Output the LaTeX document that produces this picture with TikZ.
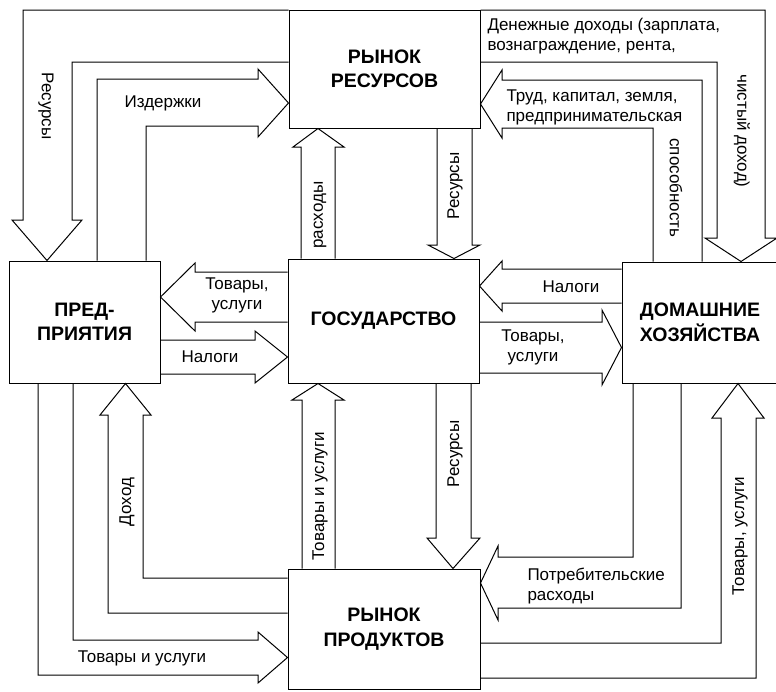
\documentclass[tikz,border=0pt]{standalone}
\usepackage{fontspec}
\setmainfont{Liberation Sans}

\tikzset{
  box/.style={draw, align=center, inner sep=0pt, font=\bfseries\fontsize{19.5}{24.5}\selectfont},
  lbl/.style={font=\fontsize{17}{20}\selectfont, inner sep=0pt},
}

\begin{document}
\begin{tikzpicture}[x=1pt, y=-1pt, line width=1pt, line join=miter]
  \useasboundingbox (0,0) rectangle (776,691);

  \node[box, minimum width=191pt, minimum height=118pt] (rr) at (384.5,69) {РЫНОК\\РЕСУРСОВ};
  \node[box, minimum width=151pt, minimum height=122pt] (pr) at (84.5,322) {ПРЕД-\\ПРИЯТИЯ};
  \node[box, minimum width=191pt, minimum height=124pt] (gov) at (383.5,321) {ГОСУДАРСТВО};
  \node[box, minimum width=156pt, minimum height=121pt] (hh) at (700,322.5) {ДОМАШНИЕ\\ХОЗЯЙСТВА};
  \node[box, minimum width=192pt, minimum height=120pt] (pm) at (384,629) {РЫНОК\\ПРОДУКТОВ};

  % upper loops
  \draw (rr.west |- 0,10) -| (23,220) -- (12,220) -- (47,0 |- pr.north) -- (82,220) -- (72,220) |- (rr.west |- 0,62);
  \draw (97,0 |- pr.north) |- (258,79) -- (258,69) -- (rr.west |- 0,103) -- (258,137) -- (258,126) -| (146,0 |- pr.north);
  \draw (rr.east |- 0,10) -| (765,238) -- (777,238) -- (741,0 |- hh.north) -- (705,238) -- (717,238) |- (rr.east |- 0,62);
  \draw (702,0 |- hh.north) |- (502,80) -- (502,70) -- (rr.east |- 0,104) -- (502,138) -- (502,128) -| (653,0 |- hh.north);

  % state and markets
  \draw (301,0 |- gov.north) -- (301,147) -- (293,147) -- (318,0 |- rr.south) -- (344,147) -- (335,147) -- (335,0 |- gov.north);
  \draw (437,0 |- rr.south) -- (437,245) -- (428,245) -- (454,0 |- gov.north) -- (480,245) -- (472,245) -- (472,0 |- rr.south);
  \draw (302,0 |- pm.north) -- (302,400) -- (292,400) -- (318,0 |- gov.south) -- (344,400) -- (335,400) -- (335,0 |- pm.north);
  \draw (436,0 |- gov.south) -- (436,538) -- (427,538) -- (453,0 |- pm.north) -- (480,538) -- (471,538) -- (471,0 |- gov.south);

  % state and sectors
  \draw (gov.west |- 0,272) -- (195,272) -- (195,263) -- (pr.east |- 0,297) -- (195,331) -- (195,322) -- (gov.west |- 0,322);
  \draw (pr.east |- 0,340) -- (255,340) -- (255,331) -- (gov.west |- 0,357) -- (255,383) -- (255,374) -- (pr.east |- 0,374);
  \draw (hh.west |- 0,269) -- (502,269) -- (502,261) -- (gov.east |- 0,286) -- (502,311) -- (502,303) -- (hh.west |- 0,303);
  \draw (gov.east |- 0,322) -- (602,322) -- (602,310) -- (hh.west |- 0,347.5) -- (602,385) -- (602,373) -- (gov.east |- 0,373);

  % lower loops
  \draw (pm.west |- 0,613) -| (108,415) -- (100,415) -- (125.5,0 |- pr.south) -- (151,415) -- (143,415) |- (pm.west |- 0,578);
  \draw (38,0 |- pr.south) |- (258,675) -- (258,683) -- (pm.west |- 0,657.5) -- (258,632) -- (258,640) -| (73,0 |- pr.south);
  \draw (681,0 |- hh.south) |- (498,608) -- (498,620) -- (pm.east |- 0,583) -- (498,546) -- (498,557) -| (633,0 |- hh.south);
  \draw (pm.east |- 0,678) -| (756,418) -- (764,418) -- (738,0 |- hh.south) -- (712,418) -- (721,418) |- (pm.east |- 0,643);

  \node[lbl, rotate=-90] (res1) at (46,106) {Ресурсы};
  \node[lbl] (izd) at (163,103) {Издержки};
  \node[lbl, anchor=west, align=left] (den) at (487,36) {Денежные доходы (зарплата,\\вознаграждение, рента,};
  \node[lbl, rotate=-90] (chist) at (742,131) {чистый доход)};
  \node[lbl, anchor=west, align=left] (trud) at (506,107) {Труд, капитал, земля,\\предпринимательская};
  \node[lbl, rotate=-90] (spos) at (676,188) {способность};
  \node[lbl, rotate=90] (rash) at (320,215) {расходы};
  \node[lbl, rotate=90] (res2) at (455,186) {Ресурсы};
  \node[lbl, align=center] (tov1) at (237,295) {Товары,\\услуги};
  \node[lbl] (nal1) at (210,357) {Налоги};
  \node[lbl] (nal2) at (571,287) {Налоги};
  \node[lbl, align=center] (tov2) at (533,347.5) {Товары,\\услуги};
  \node[lbl, rotate=90] (tovu1) at (320,496) {Товары и услуги};
  \node[lbl, rotate=90] (res3) at (455,454) {Ресурсы};
  \node[lbl, rotate=90] (doh) at (127,502) {Доход};
  \node[lbl] (tovu2) at (142,658) {Товары и услуги};
  \node[lbl, anchor=west, align=left] (potr) at (527,586) {Потребительские\\расходы};
  \node[lbl, rotate=90] (tovu3) at (740,536) {Товары, услуги};

\end{tikzpicture}
\end{document}
